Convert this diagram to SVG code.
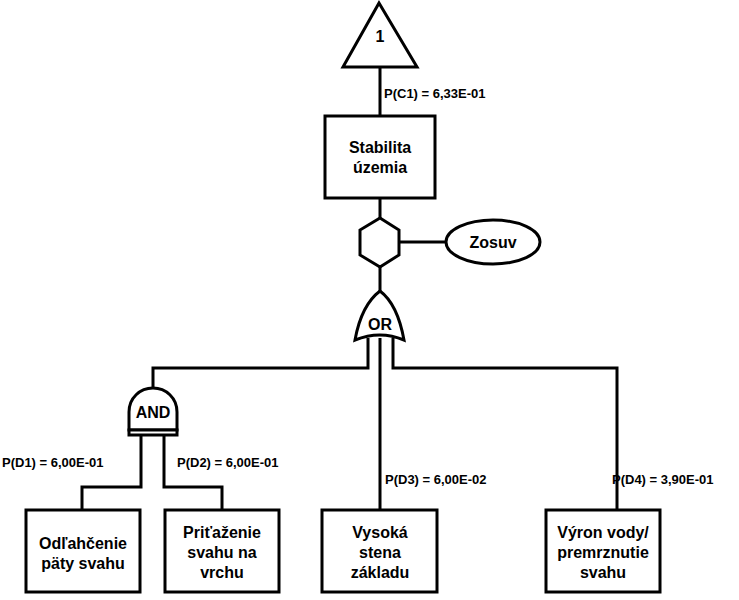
<svg xmlns="http://www.w3.org/2000/svg" width="739" height="600" viewBox="0 0 739 600">
<style>
.s{fill:#fff;stroke:#000;stroke-width:3}
.l{fill:none;stroke:#000;stroke-width:3}
text{font-family:"Liberation Sans",Arial,sans-serif;font-weight:bold;fill:#000}
.n{font-size:16px;text-anchor:middle}
.p{font-size:13px}
</style>
<rect width="739" height="600" fill="#fff"/>
<g id="connectors">
<path class="l" d="M380 67V116M380 198V218M380 267V291M399 242H446"/>
<path class="l" d="M368 338V368H153V390M393 338V368H617V510M380 338V510"/>
<path class="l" d="M141 435V487H82V510M164 435V487H222V510"/>
</g>
<g id="transfer"><polygon class="s" points="379,3 417,67 343,67"/><text class="n" x="380" y="42">1</text></g>
<text class="p" x="384" y="98">P(C1) = 6,33E-01</text>
<g id="top"><rect class="s" x="325" y="116" width="110" height="82"/><text class="n" x="380" y="153">Stabilita</text><text class="n" x="380" y="173">územia</text></g>
<g id="hex"><polygon class="s" points="380,218 399,230 399,255 380,267 360,255 360,230"/></g>
<g id="zosuv"><ellipse class="s" cx="493" cy="242" rx="47" ry="22"/><text class="n" x="493" y="248">Zosuv</text></g>
<g id="or"><path class="s" d="M380 291C392 300 400 318 404 340Q380 330 355 340C359 318 368 300 380 291Z"/><text class="n" x="380" y="330">OR</text></g>
<g id="and"><path class="s" d="M129 430V412C129 398 140 388 153 388C166 388 177 398 177 412V430Z"/><rect class="s" x="129" y="430" width="48" height="5"/><text class="n" x="153" y="418">AND</text></g>
<text class="p" x="2" y="467">P(D1) = 6,00E-01</text>
<text class="p" x="177" y="467">P(D2) = 6,00E-01</text>
<text class="p" x="385" y="484">P(D3) = 6,00E-02</text>
<text class="p" x="612" y="484">P(D4) = 3,90E-01</text>
<g id="d1"><rect class="s" x="26" y="510" width="114" height="82"/><text class="n" x="83" y="549">Odľahčenie</text><text class="n" x="83" y="569">päty svahu</text></g>
<g id="d2"><rect class="s" x="165" y="510" width="114" height="82"/><text class="n" x="222" y="538">Priťaženie</text><text class="n" x="222" y="558">svahu na</text><text class="n" x="222" y="578">vrchu</text></g>
<g id="d3"><rect class="s" x="322" y="510" width="115" height="82"/><text class="n" x="380" y="538">Vysoká</text><text class="n" x="380" y="558">stena</text><text class="n" x="380" y="578">základu</text></g>
<g id="d4"><rect class="s" x="546" y="510" width="114" height="82"/><text class="n" x="603" y="538">Výron vody/</text><text class="n" x="603" y="558">premrznutie</text><text class="n" x="603" y="578">svahu</text></g>
</svg>
